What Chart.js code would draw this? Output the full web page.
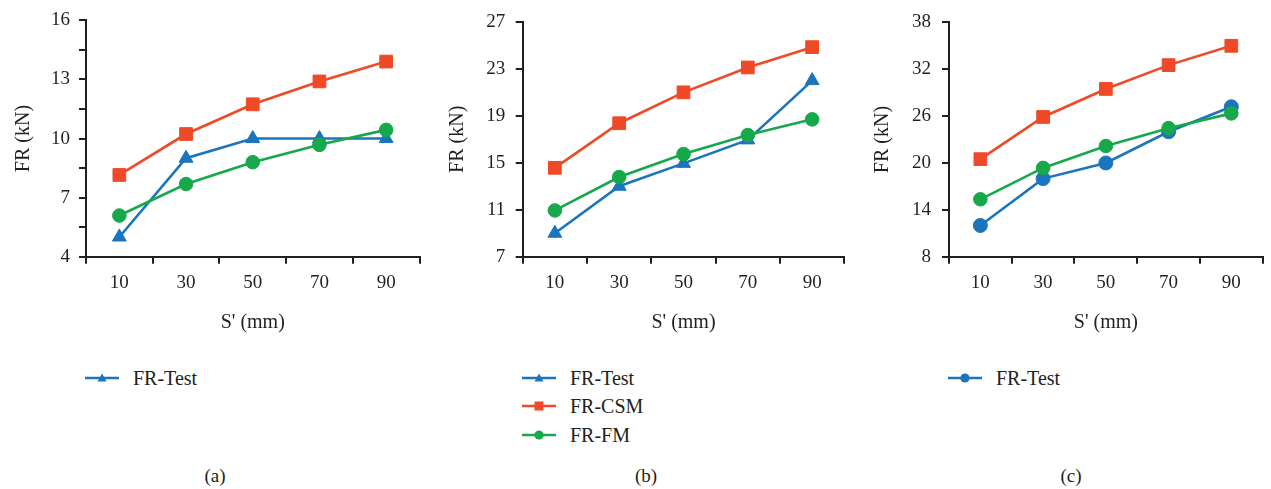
<!DOCTYPE html>
<html>
<head>
<meta charset="utf-8">
<script src="https://cdn.jsdelivr.net/npm/chart.js@4/dist/chart.umd.min.js"></script>
<style>
  body { margin: 0; background: #fff; width: 1271px; height: 489px; position: relative; overflow: hidden;
         font-family: "Liberation Serif", "DejaVu Serif", serif; color: #231f20; }
  canvas { position: absolute; top: 0; }
  .lg { position: absolute; height: 20px; }
  .lg svg { position: absolute; left: 0; top: 3px; }
  .lg span { position: absolute; top: 0; font-size: 20px; line-height: 20px; white-space: nowrap; }
  .cap { position: absolute; top: 465px; width: 60px; text-align: center; font-size: 19px; line-height: 22px; }
</style>
</head>
<body>
<canvas id="chartA" width="423" height="340" style="left:0px"></canvas>
<canvas id="chartB" width="424" height="340" style="left:423px"></canvas>
<canvas id="chartC" width="424" height="340" style="left:847px"></canvas>
<div id="legends"></div>
<div class="cap" style="left:185px">(a)</div>
<div class="cap" style="left:616px">(b)</div>
<div class="cap" style="left:1041px">(c)</div>

<script>
// S' values (mm)
var spacing = ['10', '30', '50', '70', '90'];

// panel (a)
var testA = [5.0, 9.0, 10.0, 10.0, 10.0];
var csmA = [8.15, 10.23, 11.74, 12.9, 13.91];
var fmA = [6.09, 7.69, 8.8, 9.68, 10.44];

// panel (b)
var testB = [9.0, 13.0, 14.95, 16.95, 22.0];
var csmB = [14.57, 18.37, 21.0, 23.12, 24.85];
var fmB = [10.94, 13.79, 15.74, 17.36, 18.7];

// panel (c)
var testC = [12.0, 18.0, 20.0, 24.0, 27.2];
var csmC = [20.49, 25.89, 29.48, 32.53, 35.0];
var fmC = [15.35, 19.37, 22.17, 24.46, 26.35];

// y axis ranges: min, max, minor step, labelled step
var yRangeA = [4, 16, 1.5, 3];
var yRangeB = [7, 27, 2, 4];
var yRangeC = [8, 38, 3, 6];

var seriesNames = ['FR-Test', 'FR-CSM', 'FR-FM'];

var blue = '#1b75bc';
var red = '#ef4a28';
var green = '#17a84b';
var ink = '#231f20';

Chart.defaults.font.family = '"Liberation Serif", "DejaVu Serif", serif';
Chart.defaults.color = ink;

var makeSet = function(label, data, color, style, radius, order){
  return {
    label: label,
    data: data,
    borderColor: color,
    backgroundColor: color,
    pointBackgroundColor: color,
    pointBorderColor: color,
    pointStyle: style,
    pointRadius: radius,
    pointBorderWidth: 1,
    borderWidth: 2.6,
    tension: 0,
    order: order,
    clip: false
  };
};

var makeChart = function(id, testData, testStyle, csmData, fmData, yRange, geo){
  var testRadius = testStyle == 'triangle' ? 8 : 7;
  return new Chart(document.getElementById(id).getContext('2d'), {
    type: 'line',
    data: {
      labels: spacing,
      datasets: [
        makeSet(seriesNames[0], testData, blue, testStyle, testRadius, 3),
        makeSet(seriesNames[1], csmData, red, 'rect', 9, 2),
        makeSet(seriesNames[2], fmData, green, 'circle', 6.8, 1)
      ]
    },
    options: {
      responsive: false,
      animation: false,
      devicePixelRatio: 1,
      layout: { autoPadding: false, padding: { left: 0, right: geo.right, top: 17.3, bottom: 0 } },
      plugins: { legend: { display: false }, tooltip: { enabled: false } },
      scales: {
        x: {
          type: 'category',
          offset: true,
          grid: { offset: true, drawOnChartArea: false, drawTicks: true, tickLength: 7, color: ink, lineWidth: 2 },
          border: { display: true, color: ink, width: 2 },
          ticks: { font: { size: 19 }, padding: 8, maxRotation: 0, color: ink },
          title: { display: true, text: "S' (mm)", font: { size: 20 }, color: ink, padding: { top: 0, bottom: 5 } },
          afterFit: function(scale){ scale.height = 83.3; }
        },
        y: {
          min: yRange[0],
          max: yRange[1],
          grid: { drawOnChartArea: false, drawTicks: true, tickLength: 7, color: ink, lineWidth: 2 },
          border: { display: true, color: ink, width: 2 },
          ticks: {
            stepSize: yRange[2],
            font: { size: 19 },
            padding: geo.tickPad,
            color: ink,
            callback: function(v){
              var k = (v - yRange[0]) / yRange[3];
              return Math.abs(k - Math.round(k)) < 1e-6 ? '' + v : '';
            }
          },
          title: { display: true, text: 'FR (kN)', font: { size: 20 }, color: ink, padding: { top: geo.titlePad, bottom: 0 } },
          afterFit: function(scale){ scale.width = geo.yWidth; }
        }
      }
    }
  });
};

var chartA = makeChart('chartA', testA, 'triangle', csmA, fmA, yRangeA, { yWidth: 86, right: 3.5, tickPad: 9, titlePad: 12 });
var chartB = makeChart('chartB', testB, 'triangle', csmB, fmB, yRangeB, { yWidth: 99.7, right: 2.7, tickPad: 10.5, titlePad: 23 });
var chartC = makeChart('chartC', testC, 'circle', csmC, fmC, yRangeC, { yWidth: 102, right: 8.3, tickPad: 11, titlePad: 24 });

// legend entries below each panel, drawn as html
var markerSvg = function(color, style){
  var m = '';
  if(style == 'triangle') m = '<polygon points="17,2.5 21.5,10.5 12.5,10.5" fill="' + color + '"/>';
  else if(style == 'rect') m = '<rect x="12.5" y="2.5" width="9" height="9" fill="' + color + '"/>';
  else m = '<circle cx="17" cy="7" r="4.6" fill="' + color + '"/>';
  return '<svg width="36" height="14"><line x1="0" y1="7" x2="34" y2="7" stroke="' + color + '" stroke-width="2.6"/>' + m + '</svg>';
};

var addLegend = function(left, top, name, color, style){
  var d = document.createElement('div');
  d.className = 'lg';
  d.style.left = left + 'px';
  d.style.top = top + 'px';
  d.innerHTML = markerSvg(color, style) + '<span style="left:48px">' + name + '</span>';
  document.getElementById('legends').appendChild(d);
};

addLegend(85, 368, seriesNames[0], blue, 'triangle');
addLegend(522, 368, seriesNames[0], blue, 'triangle');
addLegend(522, 396, seriesNames[1], red, 'rect');
addLegend(522, 425, seriesNames[2], green, 'circle');
addLegend(948, 368, seriesNames[0], blue, 'circle');
</script>
</body>
</html>
